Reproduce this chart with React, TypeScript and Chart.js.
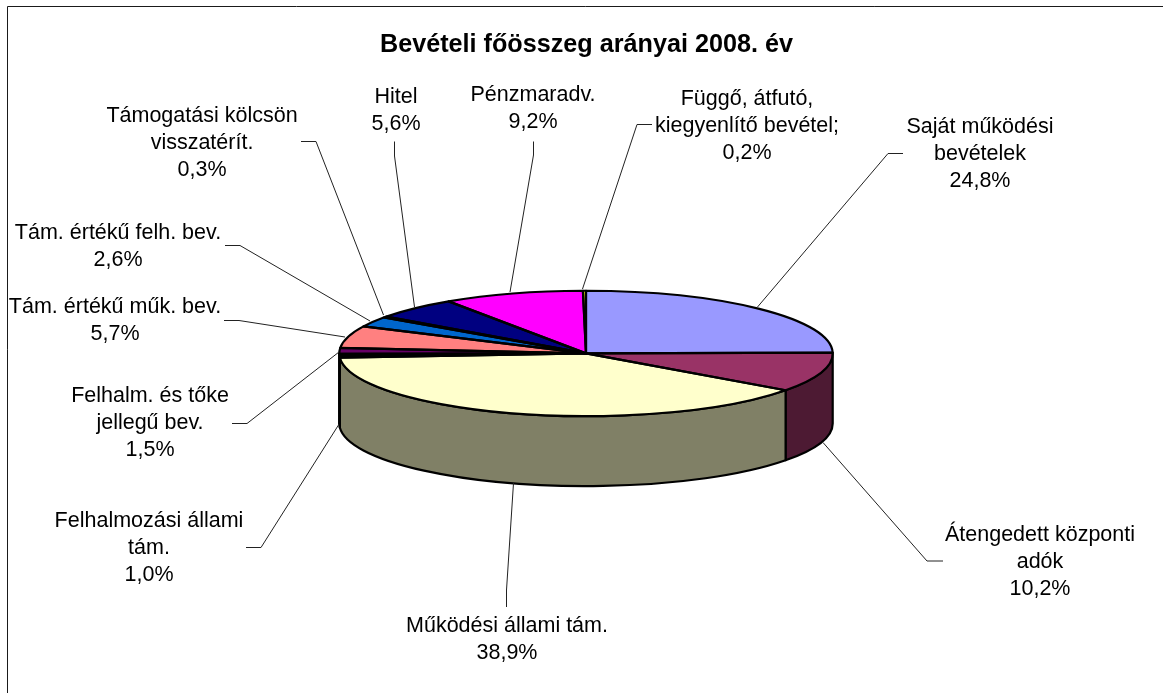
import React, { useEffect, useRef } from "react";
import { Chart, registerables } from "chart.js";

Chart.register(...registerables);

const titleText = "Bevételi főösszeg arányai 2008. év";

const categories = [
  "Saját működési bevételek",
  "Átengedett központi adók",
  "Működési állami tám.",
  "Felhalmozási állami tám.",
  "Felhalm. és tőke jellegű bev.",
  "Tám. értékű műk. bev.",
  "Tám. értékű felh. bev.",
  "Támogatási kölcsön visszatérít.",
  "Hitel",
  "Pénzmaradv.",
  "Függő, átfutó, kiegyenlítő bevétel;",
];

const values = [24.8, 10.2, 38.9, 1.0, 1.5, 5.7, 2.6, 0.3, 5.6, 9.2, 0.2];

const colors = [
  "#9999FF", "#993366", "#FFFFCC", "#000000", "#660066", "#FF8080",
  "#0066CC", "#000000", "#000080", "#FF00FF", "#FFFF00",
];

const wallColors = [
  "#4D4D80", "#4D1A33", "#808066", "#000000", "#330033", "#804040",
  "#003366", "#000000", "#000040", "#800080", "#808000",
];

// How each label breaks onto lines
const labelLines = [
  ["Saját működési", "bevételek"],
  ["Átengedett központi", "adók"],
  ["Működési állami tám."],
  ["Felhalmozási állami", "tám."],
  ["Felhalm. és tőke", "jellegű bev."],
  ["Tám. értékű műk. bev."],
  ["Tám. értékű felh. bev."],
  ["Támogatási kölcsön", "visszatérít."],
  ["Hitel"],
  ["Pénzmaradv."],
  ["Függő, átfutó,", "kiegyenlítő bevétel;"],
];

// Label layout: centre x and first baseline y
const labelAnchors = [
  [980, 133], [1040, 541], [507, 632], [149, 527], [150, 402], [115, 313],
  [118, 239], [202, 122], [396, 103], [533, 101], [747, 105],
];

// Leader line layout
const leaders = [
  [[903, 153.5], [888, 153.5], [757.5, 307]],
  [[943, 561], [927, 561], [823, 442.5]],
  [[506.5, 607], [506.5, 590], [513.5, 483]],
  [[246, 547.5], [261, 547.5], [338.5, 425]],
  [[232, 423.5], [247, 423.5], [339, 352]],
  [[224, 320.5], [239, 320.5], [345, 337]],
  [[225, 245.5], [240, 245.5], [370, 321]],
  [[301, 141.5], [316, 141.5], [383.5, 315]],
  [[394.5, 141.5], [394.5, 156], [414.5, 307]],
  [[533.5, 141.5], [533.5, 155], [510, 292]],
  [[652, 124.5], [637, 124.5], [582.5, 289]],
];

const WIDTH = 1163;
const HEIGHT = 693;
const RADIUS = 246.7;
const TILT = 0.254;
const DEPTH = 70;
const STROKE = 2.2;
const FONT = '"Liberation Sans", Arial, sans-serif';

const pie3d = {
  id: "pie3d",
  beforeDraw(chart: any) {
    const { ctx } = chart;
    ctx.save();
    ctx.fillStyle = "#fff";
    ctx.fillRect(0, 0, WIDTH, HEIGHT);
    ctx.strokeStyle = "#1a1a1a";
    ctx.lineWidth = 1;
    ctx.beginPath();
    ctx.moveTo(7.5, HEIGHT);
    ctx.lineTo(7.5, 6.5);
    ctx.lineTo(WIDTH, 6.5);
    ctx.stroke();
    ctx.restore();
  },
  beforeDatasetsDraw(chart: any) {
    const { ctx } = chart;
    const arcs = chart.getDatasetMeta(0).data;
    ctx.save();
    ctx.lineWidth = STROKE;
    ctx.strokeStyle = "#000";
    ctx.lineJoin = "round";
    arcs.forEach((arc: any, i: number) => {
      const r = arc.outerRadius;
      const ry = r * TILT;
      // Only the front half of the rim is visible (canvas angles 0..PI).
      const from = Math.max(arc.startAngle, 0);
      const to = Math.min(arc.endAngle, Math.PI);
      if (to <= from) return;
      ctx.beginPath();
      ctx.ellipse(arc.x, arc.y, r, ry, 0, from, to);
      ctx.ellipse(arc.x, arc.y + DEPTH, r, ry, 0, to, from, true);
      ctx.closePath();
      ctx.fillStyle = wallColors[i];
      ctx.fill();
      ctx.stroke();
    });
    ctx.restore();
    // Flatten the library's own arcs into the tilted top face.
    const first = arcs[0];
    ctx.save();
    ctx.translate(first.x, first.y);
    ctx.scale(1, TILT);
    ctx.translate(-first.x, -first.y);
  },
  afterDatasetsDraw(chart: any) {
    const { ctx } = chart;
    ctx.restore();
    const arcs = chart.getDatasetMeta(0).data;

    ctx.save();
    ctx.lineWidth = STROKE;
    ctx.strokeStyle = "#000";
    ctx.lineJoin = "round";
    arcs.forEach((arc: any) => {
      const r = arc.outerRadius;
      ctx.beginPath();
      ctx.moveTo(arc.x, arc.y);
      ctx.ellipse(arc.x, arc.y, r, r * TILT, 0, arc.startAngle, arc.endAngle);
      ctx.closePath();
      ctx.stroke();
    });

    ctx.strokeStyle = "#222";
    ctx.lineWidth = 1;
    leaders.forEach((pts) => {
      ctx.beginPath();
      pts.forEach(([x, y], k) => (k ? ctx.lineTo(x, y) : ctx.moveTo(x, y)));
      ctx.stroke();
    });

    ctx.fillStyle = "#000";
    ctx.textAlign = "center";
    ctx.textBaseline = "alphabetic";
    ctx.font = `bold 25.2px ${FONT}`;
    ctx.fillText(titleText, 586.5, 52);
    ctx.font = `21.5px ${FONT}`;
    labelLines.forEach((lines, i) => {
      const [x, y] = labelAnchors[i];
      const all = [...lines, `${values[i].toFixed(1).replace(".", ",")}%`];
      all.forEach((t, k) => ctx.fillText(t, x, y + k * 27.2));
    });
    ctx.restore();
  },
};

export default function App() {
  const ref = useRef<HTMLCanvasElement | null>(null);
  useEffect(() => {
    document.body.style.margin = "0";
    const chart = new Chart(ref.current as HTMLCanvasElement, {
      type: "pie",
      data: {
        labels: categories,
        datasets: [
          {
            data: values,
            backgroundColor: colors,
            borderWidth: 0,
            clip: false,
          } as any,
        ],
      },
      options: {
        animation: false,
        responsive: false,
        radius: RADIUS,
        layout: { padding: { left: 9, top: 13.8, right: 0, bottom: 0 } },
        plugins: {
          legend: { display: false },
          title: { display: false },
          tooltip: { enabled: false },
        },
      } as any,
      plugins: [pie3d as any],
    });
    return () => chart.destroy();
  }, []);
  return (
    <canvas
      ref={ref}
      width={WIDTH}
      height={HEIGHT}
      style={{ display: "block", width: WIDTH, height: HEIGHT }}
    />
  );
}
